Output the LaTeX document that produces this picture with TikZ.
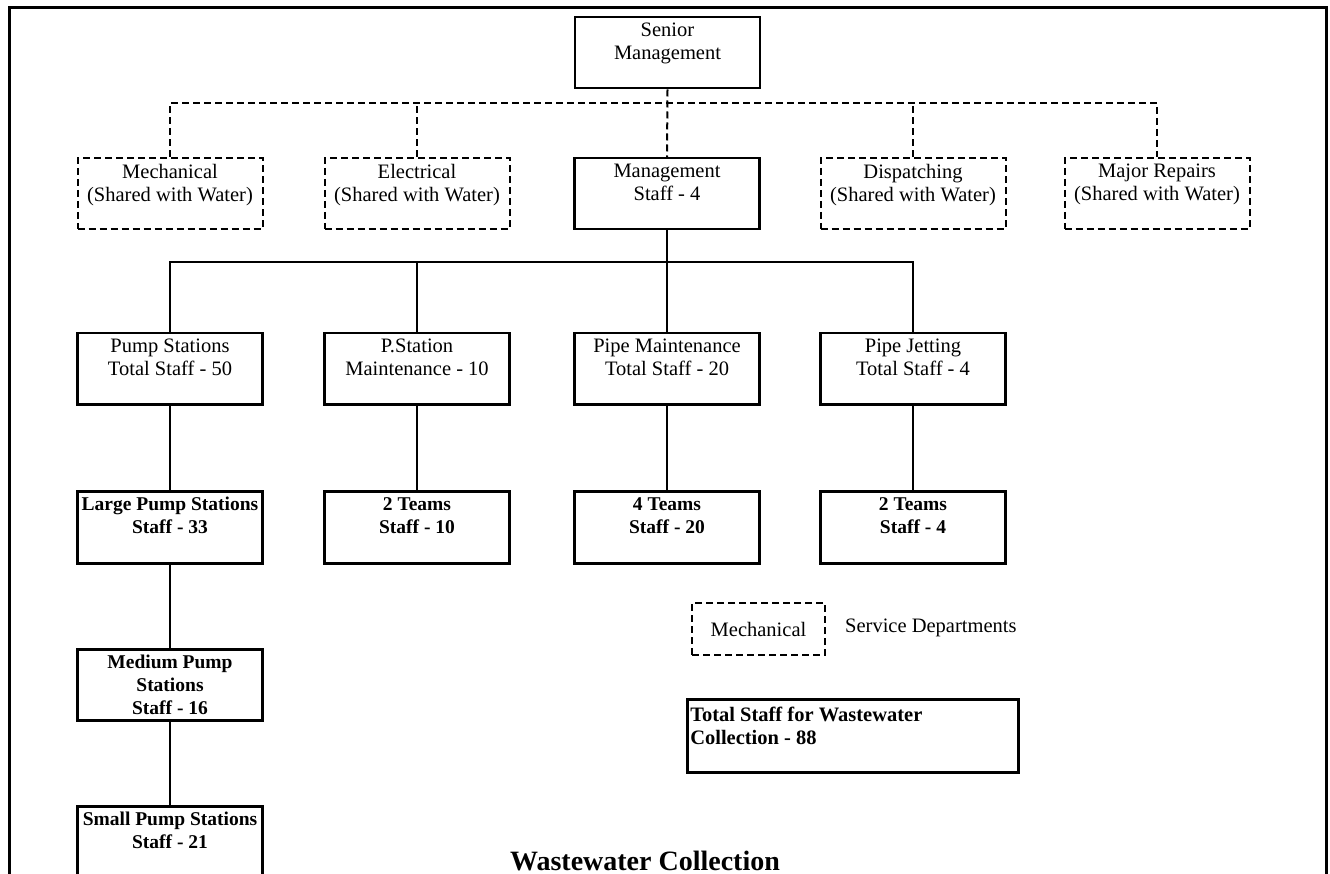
\documentclass[tikz,border=0pt]{standalone}
\usepackage{fontspec}
\setmainfont{Liberation Serif}
\newcommand{\tbx}[2][71pt]{\parbox[c][#1][t]{185pt}{\centering\vspace*{6pt}#2}}
\begin{document}
\begin{tikzpicture}[x=1pt,y=-1pt,
  box/.style={draw, line width=2.5pt, inner sep=0pt, anchor=north, font=\fontsize{20.5}{23}\selectfont},
  dbox/.style={box, line width=2pt, dash pattern=on 7pt off 4pt},
  bbox/.style={box, font=\fontsize{19.5}{23}\selectfont\bfseries},
  link/.style={line width=2.5pt},
  dlink/.style={line width=2pt, dash pattern=on 7pt off 4pt},
  plain/.style={inner sep=0pt, font=\fontsize{20.5}{23}\selectfont}
]
\useasboundingbox (0,0) rectangle (1330,874);
\clip (0,0) rectangle (1330,874);
% frame
\draw[line width=3pt] (9,900) |- (1326,8) -- (1326,900);

% top
\node[box] (sm) at (667.5,16) {\tbx{Senior\\Management}};

% level 1
\node[dbox] (mech)  at (170,157)  {\tbx{Mechanical\\(Shared with Water)}};
\node[dbox] (elec)  at (417,157)  {\tbx{Electrical\\(Shared with Water)}};
\node[box]  (mgmt)  at (667,157)  {\tbx{Management\\Staff - 4}};
\node[dbox] (disp)  at (913,157)  {\tbx{Dispatching\\(Shared with Water)}};
\node[dbox] (major) at (1157,157) {\tbx{Major Repairs\\(Shared with Water)}};

% level 2
\node[box] (pumps) at (170,332) {\tbx{Pump Stations\\Total Staff - 50}};
\node[box] (pstat) at (417,332) {\tbx{P.Station\\Maintenance - 10}};
\node[box] (pipem) at (667,332) {\tbx{Pipe Maintenance\\Total Staff - 20}};
\node[box] (jet)   at (913,332) {\tbx{Pipe Jetting\\Total Staff - 4}};

% level 3
\node[bbox] (large)  at (170,490) {\tbx[72pt]{Large Pump Stations\\Staff - 33}};
\node[bbox] (teamsa) at (417,490) {\tbx[72pt]{2 Teams\\Staff - 10}};
\node[bbox] (teamsb) at (667,490) {\tbx[72pt]{4 Teams\\Staff - 20}};
\node[bbox] (teamsc) at (913,490) {\tbx[72pt]{2 Teams\\Staff - 4}};

% pump station chain
\node[bbox] (medium) at (170,648) {\tbx{Medium Pump\\Stations\\Staff - 16}};
\node[bbox] (small)  at (170,805) {\tbx{Small Pump Stations\\Staff - 21}};

% buses
\coordinate (b1) at (667,103);
\coordinate (b2) at (667,262);

% dashed connectors
\draw[dlink] (sm.south) -- (mgmt.north);
\draw[dlink] (mech.north) |- (b1) -| (major.north);
\draw[dlink] (elec.north) -- (elec.north |- b1);
\draw[dlink] (disp.north) -- (disp.north |- b1);

% solid connectors
\draw[link] (mgmt.south) -- (pipem.north);
\draw[link] (pumps.north) |- (b2) -| (jet.north);
\draw[link] (pstat.north) -- (pstat.north |- b2);
\draw[link] (pumps.south) -- (large.north);
\draw[link] (large.south) -- (medium.north);
\draw[link] (medium.south) -- (small.north);
\draw[link] (pstat.south) -- (teamsa.north);
\draw[link] (pipem.south) -- (teamsb.north);
\draw[link] (jet.south) -- (teamsc.north);

% legend
\node[dbox, anchor=center, minimum width=133pt, minimum height=52pt] (leg) at (758.5,629) {Mechanical};
\node[plain, anchor=west] (legt) at (845,628) {Service Departments};

% total
\node[box, anchor=north west] (tot) at (686,698)
  {\parbox[c][73pt][t]{331pt}{\raggedright\leftskip=3pt\bfseries\vspace*{8pt}Total Staff for Wastewater\\Collection - 88}};

% title
\node[inner sep=0pt, anchor=base, font=\fontsize{28}{32}\selectfont\bfseries] (title) at (645,870) {Wastewater Collection};
\end{tikzpicture}
\end{document}
